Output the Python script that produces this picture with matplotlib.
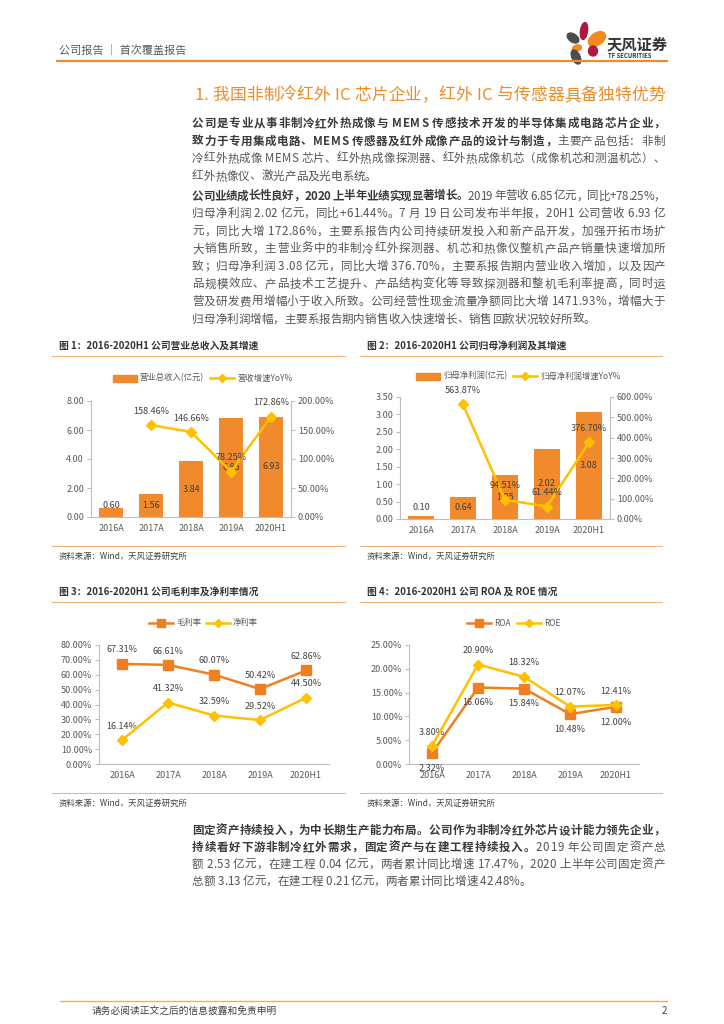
import numpy as np
import matplotlib
matplotlib.use('Agg')
import matplotlib.pyplot as plt
from matplotlib.lines import Line2D
from matplotlib.patches import Ellipse, Rectangle
from matplotlib.font_manager import FontProperties, findfont, get_font

plt.rcParams['font.family'] = ['Noto Sans CJK SC', 'DejaVu Sans']

W, H = 724, 1024
ORANGE = '#F08A2C'
GOLD = '#FFC000'
GRID = '#BFBFBF'
TICK = '#595959'
LABEL = '#404040'

# ---- data ----
years = ['2016A', '2017A', '2018A', '2019A', '2020H1']
revenue = [0.60, 1.56, 3.84, 6.85, 6.93]            # 亿元
revenue_yoy = [np.nan, 158.46, 146.66, 78.25, 172.86]
profit = [0.10, 0.64, 1.25, 2.02, 3.08]             # 亿元
profit_yoy = [np.nan, 563.87, 94.51, 61.44, 376.70]
gross_margin = [67.31, 66.61, 60.07, 50.42, 62.86]
net_margin = [16.14, 41.32, 32.59, 29.52, 44.50]
roa = [2.32, 16.06, 15.84, 10.48, 12.00]
roe = [3.80, 20.90, 18.32, 12.07, 12.41]

fig = plt.figure(figsize=(7.24, 10.24), dpi=100)


def fx(px):
    return px / W


def fy(py):
    return 1 - py / H


def box(x0, x1, ytop, ybot):
    return [fx(x0), fy(ybot), (x1 - x0) / W, (ybot - ytop) / H]


def hline(x0, x1, y, color, lw):
    fig.add_artist(Line2D([fx(x0), fx(x1)], [fy(y), fy(y)], color=color, lw=lw))


# ---- justified body text ----
font_paths = {
    False: findfont(FontProperties(family='Noto Sans CJK SC', weight='normal')),
    True: findfont(FontProperties(family='Noto Sans CJK SC', weight='bold')),
}


def advance(ch, bold, size):
    font = get_font(font_paths[bold])
    font.set_size(size, 100)
    g = font.load_char(ord(ch))
    return g.linearHoriAdvance / 65536


def text_line(segments, y, x0=192, x1=665, size=8.3, justify=True,
              colors=('#555555', '#3a3a3a')):
    chars = [(ch, b) for txt, b in segments for ch in txt]
    adv = [advance(ch, b, size) for ch, b in chars]
    gap = (x1 - x0 - sum(adv)) / (len(chars) - 1) if justify else 0.0
    x = x0
    for (ch, b), a in zip(chars, adv):
        if ch != ' ':
            fig.text(fx(x), fy(y + 4), ch, size=size,
                     weight='bold' if b else 'normal',
                     color=colors[1] if b else colors[0],
                     ha='left', va='baseline')
        x += a + gap


# ---- header ----
fig.text(fx(59), fy(50), '公司报告 ｜ 首次覆盖报告', size=8, color='#595959', va='center')
hline(57, 667, 60.5, ORANGE, 1.6)


def petal(cx, cy, w, h, angle, color):
    fig.patches.append(Ellipse((cx / 100, (H - cy) / 100), w / 100, h / 100, angle=angle,
                               color=color, transform=fig.dpi_scale_trans))


petal(584, 31, 7, 17, -8, '#B0173F')
petal(597, 39, 19, 12, 35, '#F08A1C')
petal(573, 38, 13, 8, -35, '#4D4D4D')
petal(577, 48, 9, 6, 15, '#F08A1C')
petal(593, 51, 9, 10, 0, '#B0173F')
petal(576, 57, 8, 15, 25, '#4D4D4D')
fig.text(fx(607), fy(44), '天风证券', size=11, weight='bold', color='#333333', va='center')
fig.text(fx(608), fy(55.5), 'TF SECURITIES', size=4.3, weight='bold', color='#333333', va='center')

# ---- section title ----
text_line([('1. 我国非制冷红外 IC 芯片企业，红外 IC 与传感器具备独特优势', False)], 96,
          x0=194, x1=665, size=12, colors=('#F08A24', '#F08A24'))

# ---- paragraphs ----
para1 = [
    [('公司是专业从事非制冷红外热成像与 MEMS 传感技术开发的半导体集成电路芯片企业，', True)],
    [('致力于专用集成电路、MEMS 传感器及红外成像产品的设计与制造，', True), ('主要产品包括：非制', False)],
    [('冷红外热成像 MEMS 芯片、红外热成像探测器、红外热成像机芯（成像机芯和测温机芯）、', False)],
    [('红外热像仪、激光产品及光电系统。', False)],
]
para2 = [
    [('公司业绩成长性良好，2020 上半年业绩实现显著增长。', True), ('2019 年营收 6.85 亿元，同比+78.25%，', False)],
    [('归母净利润 2.02 亿元，同比+61.44%。7 月 19 日公司发布半年报，20H1 公司营收 6.93 亿', False)],
    [('元，同比大增 172.86%，主要系报告内公司持续研发投入和新产品开发，加强开拓市场扩', False)],
    [('大销售所致，主营业务中的非制冷红外探测器、机芯和热像仪整机产品产销量快速增加所', False)],
    [('致；归母净利润 3.08 亿元，同比大增 376.70%，主要系报告期内营业收入增加，以及因产', False)],
    [('品规模效应、产品技术工艺提升、产品结构变化等导致探测器和整机毛利率提高，同时运', False)],
    [('营及研发费用增幅小于收入所致。公司经营性现金流量净额同比大增 1471.93%，增幅大于', False)],
    [('归母净利润增幅，主要系报告期内销售收入快速增长、销售回款状况较好所致。', False)],
]
para3 = [
    [('固定资产持续投入，为中长期生产能力布局。公司作为非制冷红外芯片设计能力领先企业，', True)],
    [('持续看好下游非制冷红外需求，固定资产与在建工程持续投入。', True), ('2019 年公司固定资产总', False)],
    [('额 2.53 亿元，在建工程 0.04 亿元，两者累计同比增速 17.47%，2020 上半年公司固定资产', False)],
    [('总额 3.13 亿元，在建工程 0.21 亿元，两者累计同比增速 42.48%。', False)],
]


def paragraph(lines, y0, step):
    for i, segs in enumerate(lines):
        text_line(segs, y0 + i * step, justify=(i < len(lines) - 1))


paragraph(para1, 123, 17.6)
paragraph(para2, 195.5, 17.6)
paragraph(para3, 830, 17.0)


# ---- chart helpers ----
def chart_frame(x0, x1, title, ytitle, ysrc):
    fig.text(fx(x0 + 7), fy(ytitle), title, size=7, weight='bold', color='#333333', va='center')
    hline(x0, x1, ytitle + 10, '#F6B37A', 0.8)
    hline(x0, x1, ysrc - 10, '#F6B37A', 0.8)
    fig.text(fx(x0 + 7), fy(ysrc), '资料来源：Wind，天风证券研究所', size=6, color='#404040', va='center')


def style_axis(ax, ymax, ystep, fmt):
    ax.set_xlim(-0.5, 4.5)
    ax.set_ylim(0, ymax)
    ax.set_yticks(np.arange(0, ymax + ystep / 2, ystep))
    ax.set_yticklabels([fmt.format(v) for v in ax.get_yticks()])
    ax.patch.set_alpha(0)
    for s in ['top', 'right', 'left', 'bottom']:
        ax.spines[s].set_color(GRID)
        ax.spines[s].set_linewidth(0.8)
    ax.spines['top'].set_visible(False)
    ax.tick_params(axis='y', length=3, color=GRID, labelsize=6.5, labelcolor=TICK, pad=2)
    ax.tick_params(axis='x', length=0, labelsize=6.5, labelcolor=TICK, pad=5)


def legend_bar(x, y, label):
    fig.patches.append(Rectangle((fx(x), fy(y) - 3.5 / H), 24 / W, 7 / H,
                                 transform=fig.transFigure, color=ORANGE))
    fig.text(fx(x + 27), fy(y), label, size=6, color=TICK, va='center')


def legend_line(x, y, color, marker, ms, label):
    fig.add_artist(Line2D([fx(x), fx(x + 24)], [fy(y), fy(y)], color=color, lw=1.8))
    fig.add_artist(Line2D([fx(x + 12)], [fy(y)], marker=marker, ms=ms, color=color, lw=0))
    fig.text(fx(x + 27), fy(y), label, size=6, color=TICK, va='center')


def bar_line_chart(rect, bars, yoy, ymax, ystep, rmax, rstep):
    ax = fig.add_axes(rect)
    xs = np.arange(len(years))
    ax.bar(xs, bars, width=0.62, color=ORANGE, zorder=2)
    style_axis(ax, ymax, ystep, '{:.2f}')
    ax.spines['right'].set_visible(False)
    ax.set_xticks(xs)
    ax.set_xticklabels(years)
    for i, v in enumerate(bars):
        ax.text(i, max(v / 2, 0.095 * ymax), f'{v:.2f}', ha='center', va='center',
                size=6.5, color=LABEL, zorder=3)
    ax2 = ax.twinx()
    style_axis(ax2, rmax, rstep, '{:.2f}%')
    ax2.spines['left'].set_visible(False)
    ax2.spines['bottom'].set_visible(False)
    ax2.plot(xs, yoy, color=GOLD, lw=1.8, marker='D', ms=5)
    for i, v in enumerate(yoy):
        if not np.isnan(v):
            ax2.annotate(f'{v:.2f}%', (i, v), xytext=(0, 10), textcoords='offset points',
                         ha='center', va='center', size=6.5, color=LABEL)
    return ax


def line_chart(rect, s1, s2, ymax, ystep, below_first):
    ax = fig.add_axes(rect)
    xs = np.arange(len(years))
    style_axis(ax, ymax, ystep, '{:.2f}%')
    ax.spines['right'].set_visible(False)
    ax.set_xticks(xs)
    ax.set_xticklabels(years)
    ax.plot(xs, s1, color='#F07F22', lw=1.8, marker='s', ms=6.5, zorder=3)
    ax.plot(xs, s2, color=GOLD, lw=1.8, marker='D', ms=5, zorder=4)
    d1 = -11 if below_first else 10
    for i, v in enumerate(s1):
        ax.annotate(f'{v:.2f}%', (i, v), xytext=(0, d1), textcoords='offset points',
                    ha='center', va='center', size=6.5, color=LABEL)
    for i, v in enumerate(s2):
        ax.annotate(f'{v:.2f}%', (i, v), xytext=(0, 10), textcoords='offset points',
                    ha='center', va='center', size=6.5, color=LABEL)
    return ax


# ---- figure 1 ----
chart_frame(52, 345, '图 1：2016-2020H1 公司营业总收入及其增速', 346, 556)
legend_bar(113, 378, '营业总收入(亿元)')
legend_line(210, 378, GOLD, 'D', 4.5, '营收增速YoY%')
bar_line_chart(box(91, 291, 401, 517), revenue, revenue_yoy, 8, 2, 200, 50)

# ---- figure 2 ----
chart_frame(360, 662, '图 2：2016-2020H1 公司归母净利润及其增速', 346, 556)
legend_bar(416, 376, '归母净利润(亿元)')
legend_line(513, 376, GOLD, 'D', 4.5, '归母净利润增速YoY%')
bar_line_chart(box(400, 610, 397, 519), profit, profit_yoy, 3.5, 0.5, 600, 100)

# ---- figure 3 ----
chart_frame(52, 345, '图 3：2016-2020H1 公司毛利率及净利率情况', 592, 803)
legend_line(149, 623, '#F07F22', 's', 5.5, '毛利率')
legend_line(206, 623, GOLD, 'D', 4.5, '净利率')
line_chart(box(99, 329, 645, 764), gross_margin, net_margin, 80, 10, False)

# ---- figure 4 ----
chart_frame(360, 662, '图 4：2016-2020H1 公司 ROA 及 ROE 情况', 592, 803)
legend_line(467, 623, '#F07F22', 's', 5.5, 'ROA')
legend_line(517, 623, GOLD, 'D', 4.5, 'ROE')
line_chart(box(409, 639, 645, 764), roa, roe, 25, 5, True)

# ---- footer ----
hline(60, 667, 1000.5, '#F5B041', 1.0)
fig.text(fx(92), fy(1011), '请务必阅读正文之后的信息披露和免责申明', size=7, color='#404040', va='center')
fig.text(fx(667), fy(1011), '2', size=7, color='#404040', va='center', ha='right')

fig.savefig('out.png', dpi=100)
